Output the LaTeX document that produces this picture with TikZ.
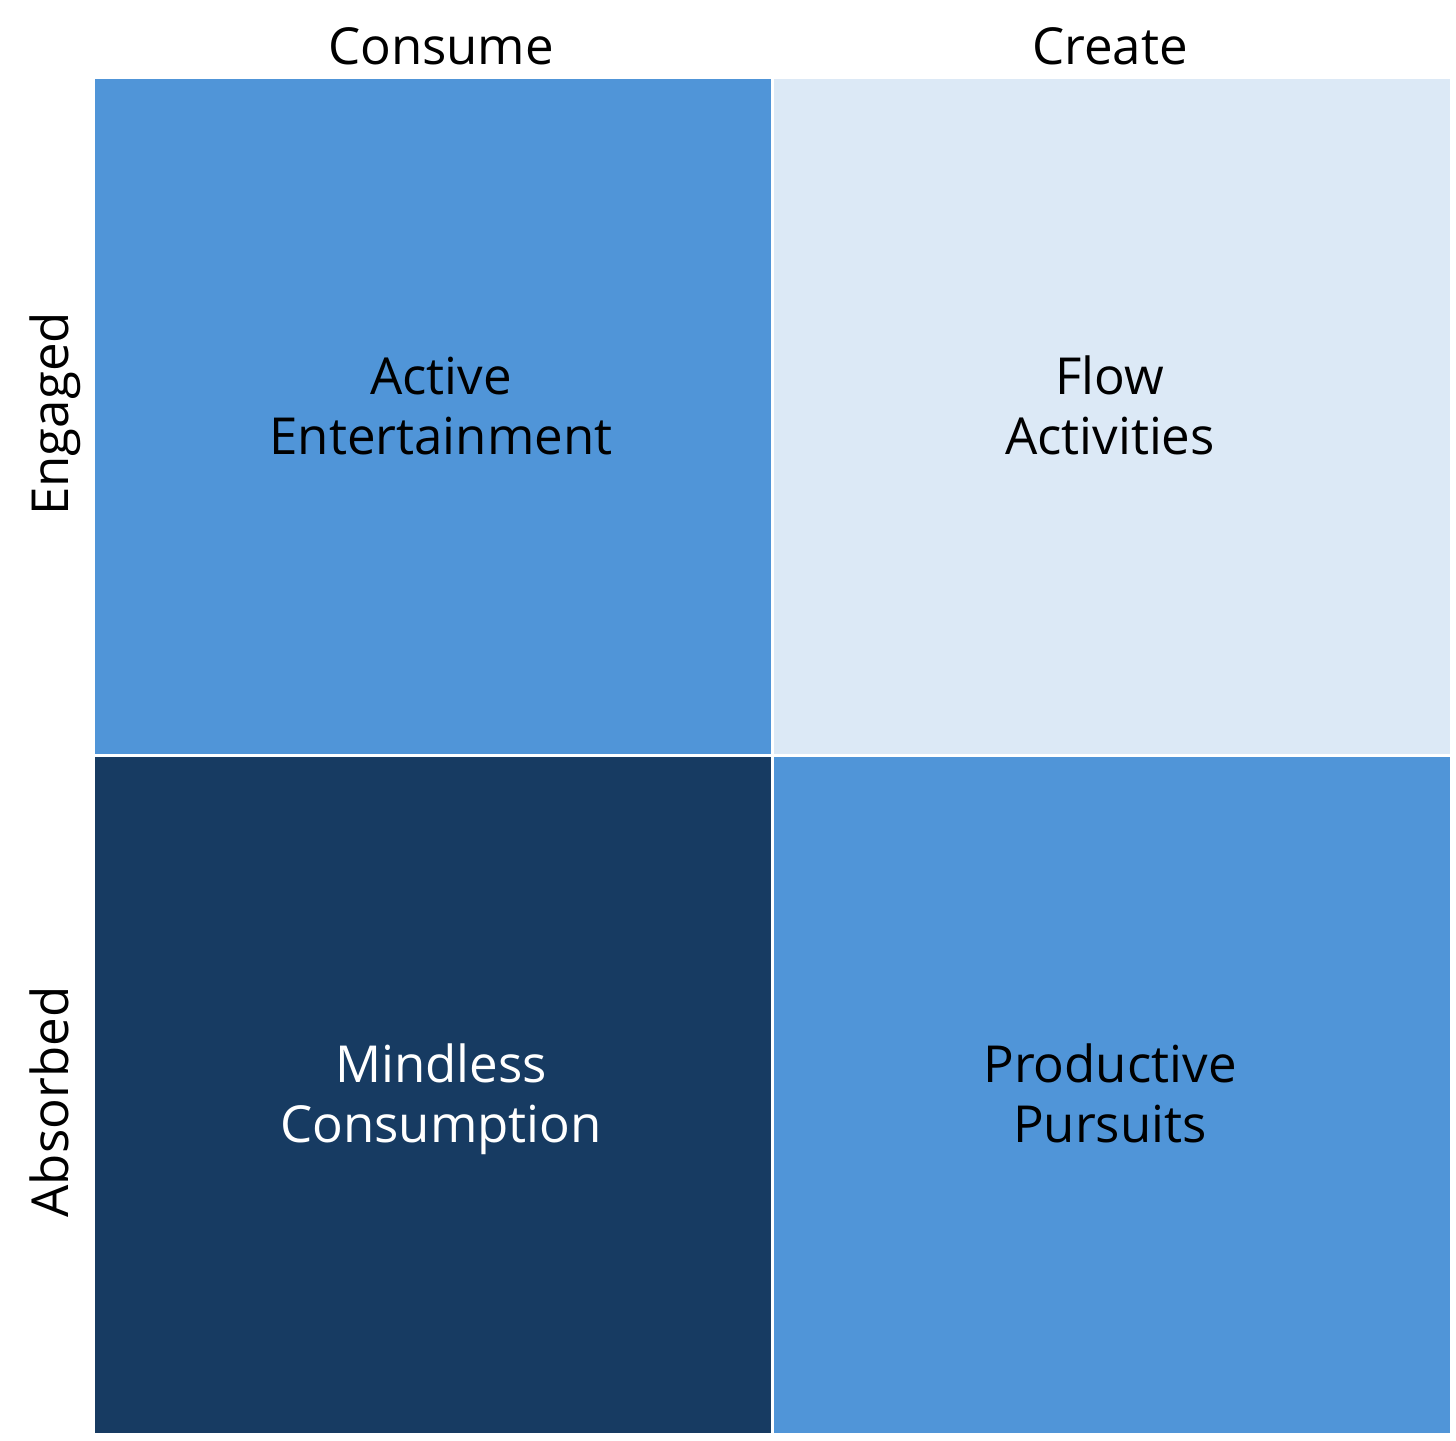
\documentclass[tikz,border=0pt]{standalone}
\usepackage{fontspec}
\setmainfont{Open Sans}
\definecolor{midblue}{HTML}{5095D8}
\definecolor{lightblue}{HTML}{DCE9F6}
\definecolor{darkblue}{HTML}{173B62}
\begin{document}
\begin{tikzpicture}[x=1pt,y=1pt,
  cell/.style={fill=#1,draw=none},
  celltext/.style={align=center,anchor=center,inner sep=0pt,font=\fontsize{51}{60}\selectfont},
  axislabel/.style={anchor=base,inner sep=0pt,font=\fontsize{51}{60}\selectfont}]
\useasboundingbox[fill=white] (0,0) rectangle (1456,1440);
% cells
\path[cell=midblue]   (95,685.5) rectangle (770.5,1361);
\path[cell=lightblue] (773.5,685.5) rectangle (1450,1361);
\path[cell=darkblue]  (95,7) rectangle (770.5,682.5);
\path[cell=midblue]   (773.5,7) rectangle (1450,682.5);
% cell texts
\node[celltext,text=black] (ae) at (441,1027) {\strut Active\\\strut Entertainment};
\node[celltext,text=black] (fa) at (1110,1027) {\strut Flow\\\strut Activities};
\node[celltext,text=white] (mc) at (441,339) {\strut Mindless\\\strut Consumption};
\node[celltext,text=black] (pp) at (1110,339) {\strut Productive\\\strut Pursuits};
% axis labels
\node[axislabel] (consume) at (441,1375) {Consume};
\node[axislabel] (create) at (1110,1375) {Create};
\node[axislabel,rotate=90] (engaged) at (68,1026) {Engaged};
\node[axislabel,rotate=90] (absorbed) at (68,338) {Absorbed};
\end{tikzpicture}
\end{document}
